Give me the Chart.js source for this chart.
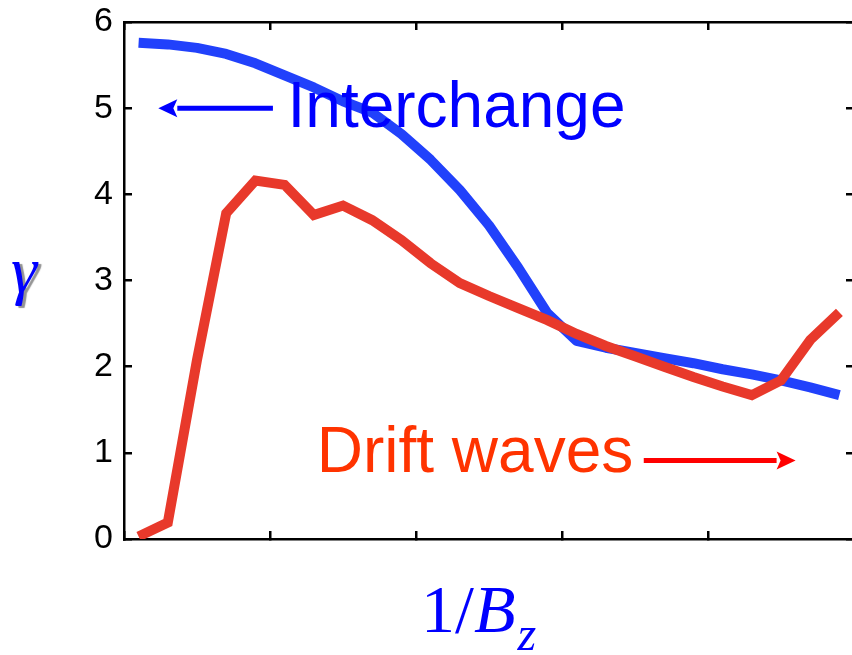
<!doctype html>
<html lang="en">
  <head>
    <meta charset="UTF-8" />
    <title>Growth rate vs 1/Bz</title>
    <script src="https://cdn.jsdelivr.net/npm/chart.js@4.4.0/dist/chart.umd.min.js"></script>
    <style>
      html, body { margin: 0; padding: 0; background: #fff; overflow: hidden; }
      canvas { display: block; }
    </style>
  </head>
  <body>
    <canvas id="gammaChart" width="860" height="655"></canvas>
    <script>
// values
const xVals = [0.1, 0.3, 0.5, 0.7, 0.9, 1.1, 1.3, 1.5, 1.7, 1.9, 2.1, 2.3, 2.5,
               2.7, 2.9, 3.1, 3.3, 3.5, 3.7, 3.9, 4.1, 4.3, 4.5, 4.7, 4.9];
const interchange = [5.76, 5.74, 5.70, 5.63, 5.52, 5.38, 5.24, 5.08, 4.95, 4.70, 4.40, 4.05, 3.64,
                     3.15, 2.62, 2.30, 2.22, 2.16, 2.10, 2.04, 1.97, 1.91, 1.84, 1.76, 1.67];
const driftWaves = [0.03, 0.19, 2.08, 3.78, 4.16, 4.11, 3.76, 3.87, 3.70, 3.47, 3.20, 2.97, 2.82,
                    2.68, 2.54, 2.38, 2.24, 2.12, 2.00, 1.88, 1.77, 1.67, 1.84, 2.31, 2.63];

const BLUE_LINE = '#2141fb';
const RED_LINE = '#e8392b';

function toPoints(ys) {
    return xVals.map((x, i) => ({ x: x, y: ys[i] }));
}

// box axes: inward ticks, no grid, fixed thickness, no label overhang padding
function boxAxis(extra, size) {
    return Object.assign({
        type: 'linear',
        grid: { drawOnChartArea: false, color: '#000', lineWidth: 2.5, tickLength: -8 },
        border: { display: true, color: '#000', width: 2.5 },
        afterFit(scale) {
            if (scale.isHorizontal()) scale.height = size; else scale.width = size;
            scale.paddingTop = 0;
            scale.paddingBottom = 0;
            scale.paddingLeft = 0;
            scale.paddingRight = 0;
        }
    }, extra);
}

function arrow(ctx, x1, x2, y, color) {
    const dir = x2 > x1 ? 1 : -1;
    const head = 19;
    ctx.save();
    ctx.strokeStyle = color;
    ctx.fillStyle = color;
    ctx.lineWidth = 5;
    ctx.beginPath();
    ctx.moveTo(x1, y);
    ctx.lineTo(x2 - dir * head, y);
    ctx.stroke();
    ctx.beginPath();
    ctx.moveTo(x2, y);
    ctx.lineTo(x2 - dir * head, y - 9);
    ctx.lineTo(x2 - dir * (head - 4), y);
    ctx.lineTo(x2 - dir * head, y + 9);
    ctx.closePath();
    ctx.fill();
    ctx.restore();
}

const labelsPlugin = {
    id: 'labels',
    afterDraw(chart) {
        const ctx = chart.ctx;
        const sx = chart.scales.x;
        const sy = chart.scales.y;

        ctx.save();
        ctx.textBaseline = 'alphabetic';
        ctx.textAlign = 'left';

        // Interchange
        ctx.fillStyle = '#0000ff';
        ctx.font = '64px "Liberation Sans", Arial, sans-serif';
        ctx.fillText('Interchange', sx.getPixelForValue(1.12), sy.getPixelForValue(4.78));
        arrow(ctx, sx.getPixelForValue(1.02), sx.getPixelForValue(0.235), sy.getPixelForValue(5), '#0000ff');

        // Drift waves
        ctx.fillStyle = '#ff3300';
        ctx.fillText('Drift waves', sx.getPixelForValue(1.32), sy.getPixelForValue(0.78));
        arrow(ctx, sx.getPixelForValue(3.56), sx.getPixelForValue(4.6), sy.getPixelForValue(0.91), '#ff0000');

        // y axis label with a grey drop shadow
        ctx.font = 'italic 66px "Liberation Serif", "Times New Roman", serif';
        ctx.fillStyle = '#0000ff';
        ctx.shadowColor = 'rgba(120,120,120,0.8)';
        ctx.shadowOffsetX = 3;
        ctx.shadowOffsetY = 2;
        ctx.shadowBlur = 1;
        ctx.fillText('\u03b3', 11, 292);
        ctx.shadowColor = 'transparent';

        // x axis label 1/B_z
        let x = 421;
        ctx.font = '68px "Liberation Serif", "Times New Roman", serif';
        ctx.fillText('1/', x, 632);
        x += ctx.measureText('1/').width;
        ctx.font = 'italic 68px "Liberation Serif", "Times New Roman", serif';
        ctx.fillText('B', x, 632);
        x += ctx.measureText('B').width + 2;
        ctx.font = 'italic 48px "Liberation Serif", "Times New Roman", serif';
        ctx.fillText('z', x, 650);

        ctx.restore();
    }
};

new Chart(document.getElementById('gammaChart'), {
    type: 'line',
    data: {
        datasets: [{
            label: 'Drift waves',
            data: toPoints(driftWaves),
            borderColor: RED_LINE,
            borderWidth: 10,
            borderJoinStyle: 'miter',
            pointRadius: 0,
            tension: 0,
            xAxisID: 'x',
            yAxisID: 'y'
        }, {
            label: 'Interchange',
            data: toPoints(interchange),
            borderColor: BLUE_LINE,
            borderWidth: 10,
            borderJoinStyle: 'round',
            pointRadius: 0,
            tension: 0,
            xAxisID: 'x',
            yAxisID: 'y'
        }]
    },
    options: {
        responsive: false,
        animation: false,
        devicePixelRatio: 1,
        layout: { padding: 0 },
        plugins: {
            legend: { display: false },
            tooltip: { enabled: false }
        },
        scales: {
            x: boxAxis({
                position: 'bottom', min: 0, max: 5,
                ticks: { stepSize: 1, display: false }
            }, 116),
            xTop: boxAxis({
                position: 'top', min: 0, max: 5,
                ticks: { stepSize: 1, display: false }
            }, 22),
            y: boxAxis({
                position: 'left', min: 0, max: 6,
                ticks: {
                    stepSize: 1, padding: 19, color: '#000',
                    font: { family: '"Liberation Sans", Arial, sans-serif', size: 34 }
                }
            }, 124),
            yRight: boxAxis({
                position: 'right', min: 0, max: 6,
                ticks: { stepSize: 1, display: false }
            }, 6)
        }
    },
    plugins: [labelsPlugin]
});
    </script>
  </body>
</html>
